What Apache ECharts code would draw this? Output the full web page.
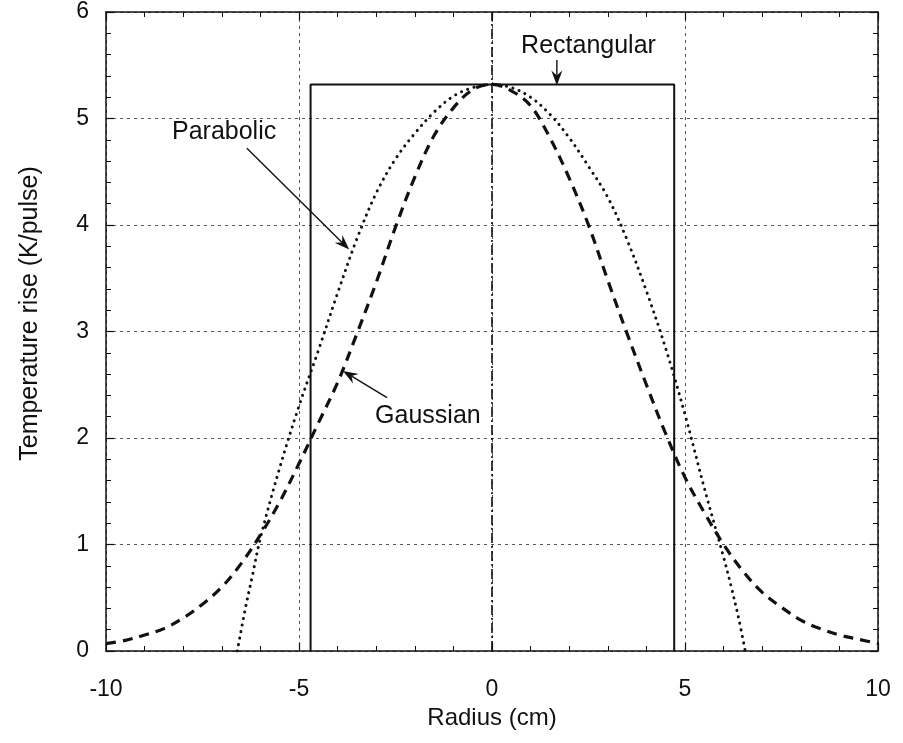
<!DOCTYPE html>
<html>
<head>
<meta charset="utf-8">
<script src="https://cdn.jsdelivr.net/npm/echarts/dist/echarts.min.js"></script>
<style>
  html, body { margin: 0; padding: 0; background: #fff; }
  #chart { width: 903px; height: 743px; }
</style>
</head>
<body>
<div id="chart"></div>
<script>
// Rectangular beam profile
const rectRadius = [-4.7, -4.7, 4.72, 4.72];
const rectTemp   = [0, 5.32, 5.32, 0];

// Parabolic beam profile
const paraRadius = [-6.6, -6.4, -6.2, -6, -5.5, -5, -4.5, -4, -3.5, -3, -2.5, -2, -1.5, -1, -0.5, 0,
                    0.5, 1, 1.5, 2, 2.5, 3, 3.5, 4, 4.5, 5, 5.5, 6, 6.2, 6.4, 6.56];
const paraTemp   = [0, 0.38, 0.72, 1.06, 1.72, 2.30, 2.82, 3.36, 3.87, 4.30, 4.62, 4.86, 5.06, 5.21, 5.29, 5.32,
                    5.29, 5.20, 5.04, 4.82, 4.55, 4.26, 3.86, 3.38, 2.84, 2.22, 1.53, 0.88, 0.60, 0.29, 0];

// Gaussian beam profile
const gaussRadius = [-10, -9.5, -9, -8.5, -8, -7.5, -7, -6.5, -6, -5.5, -5, -4.5, -4, -3.5, -3, -2.5, -2, -1.5, -1, -0.5, 0,
                     0.5, 1, 1.5, 2, 2.5, 3, 3.5, 4, 4.5, 5, 5.5, 6, 6.5, 7, 7.5, 8, 8.5, 9, 9.5, 10];
const gaussTemp   = [0.07, 0.10, 0.15, 0.21, 0.31, 0.44, 0.60, 0.82, 1.09, 1.40, 1.76, 2.14, 2.52, 2.98, 3.46, 3.98, 4.45, 4.84, 5.10, 5.27, 5.32,
                     5.26, 5.12, 4.82, 4.44, 4.00, 3.48, 2.98, 2.50, 2.04, 1.63, 1.30, 1.00, 0.75, 0.55, 0.41, 0.29, 0.21, 0.15, 0.11, 0.07];

// Axis ranges and ticks
const xTicks = { min: -10, max: 10, step: 5 };
const yTicks = { min: 0, max: 6, step: 1 };

// Curve labels with their arrows, in data units
const labels = [
  { text: 'Rectangular', at: [2.5, 5.68], from: [1.68, 5.55], to: [1.68, 5.31] },
  { text: 'Parabolic',   at: [-6.94, 4.87], from: [-6.35, 4.72], to: [-3.70, 3.77] },
  { text: 'Gaussian',    at: [-1.66, 2.21], from: [-2.72, 2.38], to: [-3.86, 2.63] }
];

const pairs = (xs, ys) => xs.map((x, i) => [x, ys[i]]);

const FONT = '"Liberation Sans", Arial, Helvetica, sans-serif';
const INK = '#111';

const gridDash = { type: [3, 4], color: '#555', width: 1 };

function boxAxis(extra) {
  return Object.assign({
    type: 'value',
    axisLine: { show: true, onZero: false, lineStyle: { color: INK, width: 1.5 } },
    axisTick: { show: true, inside: true, length: 8, lineStyle: { color: INK, width: 1.2 } },
    minorTick: { show: true, splitNumber: 5, length: 5, lineStyle: { color: INK, width: 1 } },
    axisLabel: { show: false },
    splitLine: { show: false }
  }, extra);
}

const chart = echarts.init(document.getElementById('chart'), null, { renderer: 'canvas' });

chart.setOption({
  animation: false,
  backgroundColor: '#fff',
  grid: { left: 106, right: 25, top: 12, bottom: 92, containLabel: false },
  xAxis: [
    boxAxis({
      position: 'bottom',
      min: xTicks.min, max: xTicks.max, interval: xTicks.step,
      axisLabel: { show: true, color: INK, fontSize: 23, fontFamily: FONT, margin: 27 },
      splitLine: { show: true, lineStyle: gridDash },
      name: 'Radius (cm)',
      nameLocation: 'middle',
      nameGap: 55,
      nameTextStyle: { color: INK, fontSize: 24, fontFamily: FONT }
    }),
    boxAxis({ position: 'top', min: xTicks.min, max: xTicks.max, interval: xTicks.step })
  ],
  yAxis: [
    boxAxis({
      position: 'left',
      min: yTicks.min, max: yTicks.max, interval: yTicks.step,
      axisLabel: { show: true, color: INK, fontSize: 23, fontFamily: FONT, margin: 17 },
      splitLine: { show: true, lineStyle: gridDash },
      name: 'Temperature rise (K/pulse)',
      nameLocation: 'middle',
      nameGap: 63,
      nameRotate: 90,
      nameTextStyle: { color: INK, fontSize: 25, fontFamily: FONT, padding: [0, 0, 0, 36] }
    }),
    boxAxis({ position: 'right', min: yTicks.min, max: yTicks.max, interval: yTicks.step })
  ],
  series: [
    {
      name: 'Rectangular',
      type: 'line',
      data: pairs(rectRadius, rectTemp),
      showSymbol: false,
      lineStyle: { color: INK, width: 2 },
      markLine: {
        silent: true,
        symbol: 'none',
        label: { show: false },
        lineStyle: { color: INK, width: 1.6, type: [10, 3, 2, 3] },
        data: [{ xAxis: 0 }]
      },
      z: 3
    },
    {
      name: 'Parabolic',
      type: 'line',
      smooth: 0.35,
      data: pairs(paraRadius, paraTemp),
      showSymbol: false,
      lineStyle: { color: INK, width: 3, type: [0.1, 6.5], cap: 'round' },
      z: 4
    },
    {
      name: 'Gaussian',
      type: 'line',
      smooth: 0.35,
      data: pairs(gaussRadius, gaussTemp),
      showSymbol: false,
      lineStyle: { color: INK, width: 3.2, type: [10, 7] },
      z: 4
    }
  ]
});

// Curve labels and pointer arrows
function arrowGraphic(p0, p1) {
  const dx = p1[0] - p0[0], dy = p1[1] - p0[1];
  const len = Math.hypot(dx, dy);
  const ux = dx / len, uy = dy / len;
  const nx = -uy, ny = ux;
  const head = 15, half = 5.5, notch = 10;
  const tip = p1;
  const base = [tip[0] - ux * head, tip[1] - uy * head];
  const inner = [tip[0] - ux * notch, tip[1] - uy * notch];
  return [
    {
      type: 'line',
      shape: { x1: p0[0], y1: p0[1], x2: inner[0], y2: inner[1] },
      style: { stroke: INK, lineWidth: 1.4 },
      z: 10
    },
    {
      type: 'polygon',
      shape: { points: [tip, [base[0] + nx * half, base[1] + ny * half], inner, [base[0] - nx * half, base[1] - ny * half]] },
      style: { fill: INK },
      z: 10
    }
  ];
}

const graphics = [];
labels.forEach(l => {
  const at = chart.convertToPixel({ xAxisIndex: 0, yAxisIndex: 0 }, l.at);
  graphics.push({
    type: 'text',
    x: at[0], y: at[1],
    style: { text: l.text, fill: INK, font: '25px ' + FONT, textAlign: 'center', textVerticalAlign: 'middle' },
    z: 10
  });
  const p0 = chart.convertToPixel({ xAxisIndex: 0, yAxisIndex: 0 }, l.from);
  const p1 = chart.convertToPixel({ xAxisIndex: 0, yAxisIndex: 0 }, l.to);
  graphics.push(...arrowGraphic(p0, p1));
});
chart.setOption({ graphic: graphics });
</script>
</body>
</html>
